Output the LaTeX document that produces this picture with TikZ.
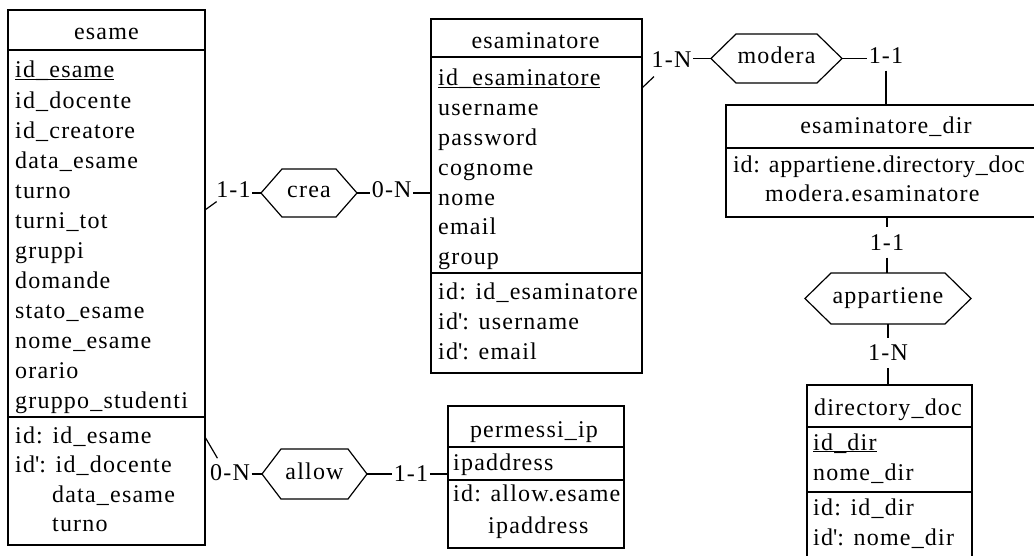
\documentclass[tikz,border=0pt]{standalone}
\usepackage{fontspec}
\setmainfont{Liberation Serif}[LetterSpace=5]
\usetikzlibrary{calc}
\newcommand\erhex[2]{\draw[hexline] ([xshift=#2pt]#1.north west) -- ([xshift=-#2pt]#1.north east) -- (#1.east) -- ([xshift=-#2pt]#1.south east) -- ([xshift=#2pt]#1.south west) -- (#1.west) -- cycle;}
\newcommand\ulx[1]{\underline{\smash{#1}}}
\newcommand\idq{id\textquotesingle:}
\begin{document}
\begin{tikzpicture}[x=1pt,y=-1pt,
  every node/.style={font=\fontsize{24}{28}\selectfont},
  ent/.style={draw, line width=1.3pt, outer sep=0pt, inner sep=0pt},
  sepline/.style={line width=1.3pt},
  attr/.style={anchor=base west, inner sep=0pt},
  ttl/.style={anchor=base, inner sep=0pt},
  rel/.style={inner sep=0pt, outer sep=0pt, text height=14pt, text depth=4pt},
  hexline/.style={line width=1.2pt},
  card/.style={inner xsep=1.5pt, inner ysep=1.5pt},
  vcard/.style={inner xsep=1.5pt, inner ysep=7pt},
  conn/.style={line width=1.2pt}]
\useasboundingbox (0,0) rectangle (1034,556);
\clip (0,0) rectangle (1034,556);

% ---------- esame ----------
\node[ent, minimum width=197pt, minimum height=535pt] (esame) at (106.5,277.5) {};
\draw[sepline] (8,50) -- (205,50);
\draw[sepline] (8,417) -- (205,417);
\node[ttl] (esame-t) at (106.5,40) {esame};
\node[attr] (esame-a0) at (15,78) {\ulx{id\_esame}};
\foreach \t [count=\i from 1] in {id\_docente,id\_creatore,data\_esame,turno,turni\_tot,gruppi,domande,stato\_esame,nome\_esame,orario,gruppo\_studenti}
  \node[attr] (esame-a\i) at (15,{78+30.03*\i}) {\t};
\node[attr] (esame-k1) at (15,443.5) {id: id\_esame};
\node[attr] (esame-k2) at (15,472.5) {\idq{} id\_docente};
\node[attr] (esame-k3) at (52,502) {data\_esame};
\node[attr] (esame-k4) at (52,531.5) {turno};

% ---------- esaminatore ----------
\node[ent, minimum width=211pt, minimum height=354pt] (esaminatore) at (536.5,196) {};
\draw[sepline] (431,57) -- (642,57);
\draw[sepline] (431,273) -- (642,273);
\node[ttl] (esaminatore-t) at (535.5,48.3) {esaminatore};
\node[attr] (esaminatore-a0) at (438,86) {\ulx{id\_esaminatore}};
\foreach \t [count=\i from 1] in {username,password,cognome,nome,email,group}
  \node[attr] (esaminatore-a\i) at (438,{86+29.8*\i}) {\t};
\node[attr] (esaminatore-k1) at (438,300) {id: id\_esaminatore};
\node[attr] (esaminatore-k2) at (438,330) {\idq{} username};
\node[attr] (esaminatore-k3) at (438,359.3) {\idq{} email};

% ---------- esaminatore_dir ----------
\node[ent, minimum width=320pt, minimum height=112pt] (esdir) at (886,161) {};
\draw[sepline] (726,148) -- (1046,148);
\node[ttl] (esdir-t) at (886,133.3) {esaminatore\_dir};
\node[attr] (esdir-k1) at (733,172.3) {\addfontfeatures{LetterSpace=3}id: appartiene.directory\_doc};
\node[attr] (esdir-k2) at (765,201.7) {modera.esaminatore};

% ---------- directory_doc ----------
\node[ent, minimum width=165pt, minimum height=190pt] (directory) at (889.5,480) {};
\draw[sepline] (807,427) -- (972,427);
\draw[sepline] (807,492) -- (972,492);
\node[ttl] (directory-t) at (888,415) {directory\_doc};
\node[attr] (directory-a0) at (813,450) {\ulx{id\_dir}};
\node[attr] (directory-a1) at (813,480) {nome\_dir};
\node[attr] (directory-k1) at (813,515) {id: id\_dir};
\node[attr] (directory-k2) at (813,545) {\idq{} nome\_dir};

% ---------- permessi_ip ----------
\node[ent, minimum width=176pt, minimum height=142pt] (permessi) at (536,477) {};
\draw[sepline] (448,447) -- (624,447);
\draw[sepline] (448,480) -- (624,480);
\node[ttl] (permessi-t) at (534,437) {permessi\_ip};
\node[attr] (permessi-a1) at (453,470) {ipaddress};
\node[attr] (permessi-k1) at (453,501.7) {id: allow.esame};
\node[attr] (permessi-k2) at (488,533.3) {ipaddress};

% ---------- relationships ----------
\node[rel, minimum width=96pt, minimum height=48pt] (crea) at (309,193) {crea};
\erhex{crea}{21}
\node[rel, minimum width=131pt, minimum height=49pt] (modera) at (776.5,58.5) {modera};
\erhex{modera}{25}
\node[rel, minimum width=166pt, minimum height=51pt] (appartiene) at (888,298.5) {appartiene};
\erhex{appartiene}{26}
\node[rel, minimum width=105pt, minimum height=50pt] (allow) at (314.5,474) {allow};
\erhex{allow}{19}

% ---------- cardinalities ----------
\node[card] (c1) at (233.5,190) {1-1};
\node[card] (c2) at (391.7,190) {0-N};
\node[card] (c3) at (671.5,60) {1-N};
\node[vcard] (c4) at (886,55.5) {1-1};
\node[vcard] (c5) at (887,242.5) {1-1};
\node[vcard] (c6) at (888,353) {1-N};
\node[card] (c7) at (230,473) {0-N};
\node[card] (c8) at (411,474) {1-1};

% ---------- connectors ----------
\coordinate (esame-p1) at (205,210);
\coordinate (esame-p2) at (205,437);
\coordinate (esaminatore-p1) at (642,88);

\draw[conn] (esame-p1) -- ([shift={(2,2)}]c1.south west);
\draw[conn] (c1.east |- crea.west) -- (crea.west);
\draw[conn] (crea.east) -- (c2.west |- crea.east);
\draw[conn] (c2.east |- crea.east) -- (esaminatore.west |- crea.east);

\draw[conn] (esaminatore-p1) -- ([shift={(4,7)}]c3.south west);
\draw[conn] (c3.east |- modera.west) -- (modera.west);
\draw[conn] (modera.east) -- (c4.west |- modera.east);
\draw[conn] (c4.south) -- (c4.south |- esdir.north);

\draw[conn] (c5.north |- esdir.south) -- (c5.north);
\draw[conn] (c5.south) -- (c5.south |- appartiene.north);
\draw[conn] (c6.north |- appartiene.south) -- (c6.north);
\draw[conn] (c6.south) -- (c6.south |- directory.north);

\draw[conn] (esame-p2) -- ([shift={(9,-5)}]c7.north west);
\draw[conn] (c7.east |- allow.west) -- (allow.west);
\draw[conn] (allow.east) -- (c8.west |- allow.east);
\draw[conn] (c8.east |- allow.east) -- (permessi.west |- allow.east);
\end{tikzpicture}
\end{document}
